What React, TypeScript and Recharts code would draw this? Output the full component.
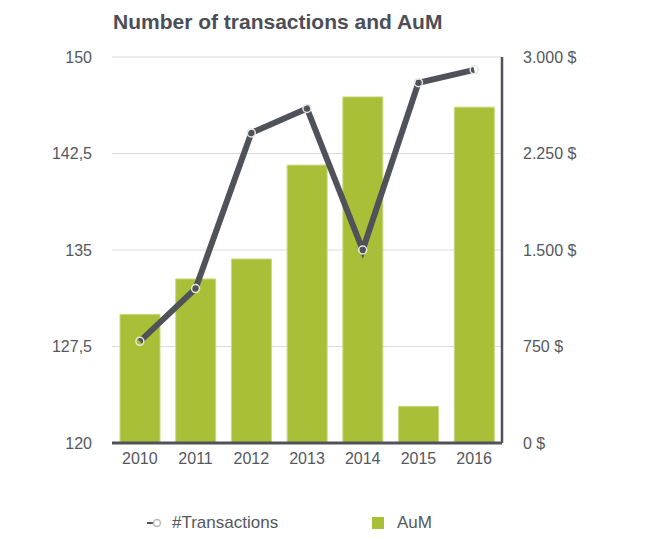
import React from "react";
import {
  ComposedChart,
  Bar,
  Line,
  XAxis,
  YAxis,
  CartesianGrid,
  Legend,
} from "recharts";

const years = ["2010", "2011", "2012", "2013", "2014", "2015", "2016"];
const transactions = [127.9, 132, 144.1, 146, 135, 148, 149];
const aum = [1000, 1275, 1430, 2160, 2690, 285, 2610];
const leftTicks = [120, 127.5, 135, 142.5, 150];
const rightTicks = [0, 750, 1500, 2250, 3000];

const data = years.map((year, i) => ({
  year,
  transactions: transactions[i],
  aum: aum[i],
}));

const FONT = "'Liberation Sans', Arial, Helvetica, sans-serif";
const TEXT = "#54575e";
const DARK = "#4f5259";
const GREEN = "#a9bf37";

const fmtLeft = (v: number) => String(v).replace(".", ",");
const fmtRight = (v: number) =>
  v.toString().replace(/\B(?=(\d{3})+(?!\d))/g, ".") + " $";

function ChartLegend() {
  return (
    <div style={{ position: "relative", height: 24, fontFamily: FONT, fontSize: 17, color: TEXT }}>
      <div style={{ position: "absolute", left: 147, top: 3, display: "flex", alignItems: "center" }}>
        <svg width={16} height={12}>
          <line x1={0} y1={6} x2={10} y2={6} stroke={DARK} strokeWidth={2} />
          <circle cx={10} cy={6} r={3.5} fill="#fff" stroke="#bbb" strokeWidth={1.5} />
        </svg>
        <span style={{ marginLeft: 9 }}>#Transactions</span>
      </div>
      <div style={{ position: "absolute", left: 372, top: 3, display: "flex", alignItems: "center" }}>
        <div style={{ width: 12, height: 12, background: GREEN }} />
        <span style={{ marginLeft: 13 }}>AuM</span>
      </div>
    </div>
  );
}

export default function App() {
  return (
    <div style={{ position: "absolute", left: 0, top: 0, width: 662, height: 539, background: "#fff" }}>
      <div
        style={{
          position: "absolute",
          left: 113,
          top: 10,
          fontFamily: FONT,
          fontWeight: "bold",
          fontSize: 21,
          color: "#4b4e56",
          zIndex: 1,
        }}
      >
        Number of transactions and AuM
      </div>
      <ComposedChart
        width={662}
        height={539}
        data={data}
        margin={{ top: 57, right: 0, left: 0, bottom: 66 }}
        barSize={40}
      >
        <CartesianGrid yAxisId="left" vertical={false} stroke="#d9d9d9" strokeWidth={1} />
        <XAxis
          dataKey="year"
          tickLine={false}
          axisLine={{ stroke: DARK, strokeWidth: 3 }}
          tickMargin={4}
          height={30}
          tick={{ fill: TEXT, fontSize: 16, fontFamily: FONT }}
        />
        <YAxis
          yAxisId="left"
          orientation="left"
          width={112}
          domain={[120, 150]}
          ticks={leftTicks}
          tickFormatter={fmtLeft}
          axisLine={false}
          tickLine={false}
          tickMargin={14}
          tick={{ fill: TEXT, fontSize: 16, fontFamily: FONT }}
        />
        <YAxis
          yAxisId="right"
          orientation="right"
          width={160}
          domain={[0, 3000]}
          ticks={rightTicks}
          tickFormatter={fmtRight}
          axisLine={{ stroke: DARK, strokeWidth: 2.5 }}
          tickLine={false}
          tickMargin={15}
          tick={{ fill: TEXT, fontSize: 16, fontFamily: FONT }}
        />
        <Legend
          layout="horizontal"
          verticalAlign="middle"
          align="center"
          wrapperStyle={{ top: 510, left: 0, width: 662 }}
          content={() => <ChartLegend />}
        />
        <Bar
          yAxisId="right"
          dataKey="aum"
          name="AuM"
          fill={GREEN}
          stroke="#c9d884"
          strokeWidth={1}
          isAnimationActive={false}
        />
        <Line
          yAxisId="left"
          type="linear"
          dataKey="transactions"
          name="#Transactions"
          stroke={DARK}
          strokeWidth={6}
          dot={{ r: 4, fill: "none", stroke: "#e4e4e4", strokeWidth: 1.5 }}
          activeDot={false}
          isAnimationActive={false}
        />
      </ComposedChart>
    </div>
  );
}
